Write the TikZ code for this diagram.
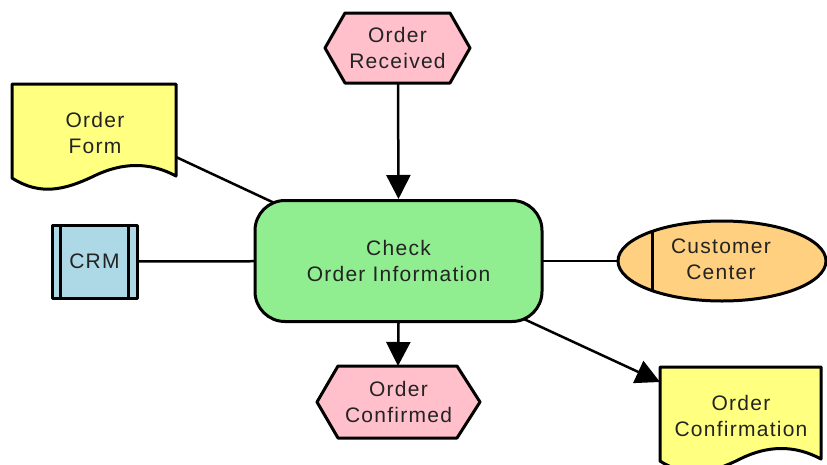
\documentclass[tikz,border=0pt]{standalone}
\usepackage{fontspec}
\newfontfamily\lblfont{Liberation Sans}[LetterSpace=6]
\usetikzlibrary{shapes.geometric,arrows.meta}
\pgfdeclarelayer{bg}
\pgfsetlayers{bg,main}

\definecolor{evpink}{RGB}{255,192,203}
\definecolor{fngreen}{RGB}{144,238,144}
\definecolor{docyellow}{RGB}{255,255,128}
\definecolor{sysblue}{RGB}{173,216,230}
\definecolor{orgorange}{RGB}{255,208,128}
\definecolor{txt}{RGB}{35,35,35}

\tikzset{
  lbl/.style={font=\lblfont\fontsize{21}{26}\selectfont, align=center, text=txt, inner sep=0pt},
  shapeline/.style={draw=black, line width=3pt, line join=round},
  link/.style={draw=black, line width=2.5pt},
  flow/.style={link, -{Triangle[length=24pt,width=24pt]}},
}

\begin{document}
\begin{tikzpicture}[x=1pt,y=-1pt]
\useasboundingbox (0,0) rectangle (827,464);

% central function
\node[shapeline, fill=fngreen, rounded corners=30pt, minimum width=287pt,
      minimum height=121pt, lbl] (check) at (398.5,261) {Check\\Order Information};

% start event
\draw[shapeline, fill=evpink] (325,48) -- (345,13) -- (450,13) -- (470,48)
      -- (450,83) -- (345,83) -- cycle;
\node[lbl] (recv) at (397.5,48) {Order\\Received};
\coordinate (recvB) at (398,83);

% end event
\draw[shapeline, fill=evpink] (317,402) -- (338,366) -- (457,366) -- (480,402)
      -- (457,438) -- (338,438) -- cycle;
\node[lbl] (conf) at (398.5,402) {Order\\Confirmed};
\coordinate (confT) at (398,366);

% input document
\draw[shapeline, fill=docyellow] (12,178) -- (12,84) -- (176,84) -- (176,176)
      .. controls (150,162) and (123,162) .. (94,176)
      .. controls (65,190) and (40,196) .. (12,178) -- cycle;
\node[lbl] (form) at (95,133) {Order\\Form};
\coordinate (formR) at (176,157);

% output document
\draw[shapeline, fill=docyellow] (660,461) -- (660,367) -- (821,367) -- (821,459)
      .. controls (795,445) and (768,445) .. (740,459)
      .. controls (712,473) and (688,479) .. (660,461) -- cycle;
\node[lbl] (ocf) at (741,416) {Order\\Confirmation};
\coordinate (ocfTL) at (660,382);

% information system
\node[shapeline, fill=sysblue, minimum width=85pt, minimum height=73pt, lbl]
      (crm) at (94.5,261.5) {CRM};
\draw[line width=3pt] ([xshift=10pt]crm.north west) -- ([xshift=10pt]crm.south west);
\draw[line width=3pt] ([xshift=-10pt]crm.north east) -- ([xshift=-10pt]crm.south east);

% organisational unit
\node[shapeline, fill=orgorange, ellipse, minimum width=208pt, minimum height=80pt,
      inner sep=0pt] (org) at (722,261) {};
\node[lbl] (orgtxt) at (721,259) {Customer\\Center};
\draw[line width=3pt] (652,231.4) -- (652,290.6);

% connectors
\begin{pgfonlayer}{bg}
  \draw[link] (formR) -- (check.center);
  \draw[link] (crm.center) -- (check.center);
  \draw[link] (check.center) -- (org.center);
\end{pgfonlayer}
\draw[flow] (recvB) -- (check.north);
\draw[flow] (check.south) -- (confT);
\draw[flow, shorten <=138pt] (check.center) -- (ocfTL);
\end{tikzpicture}
\end{document}
